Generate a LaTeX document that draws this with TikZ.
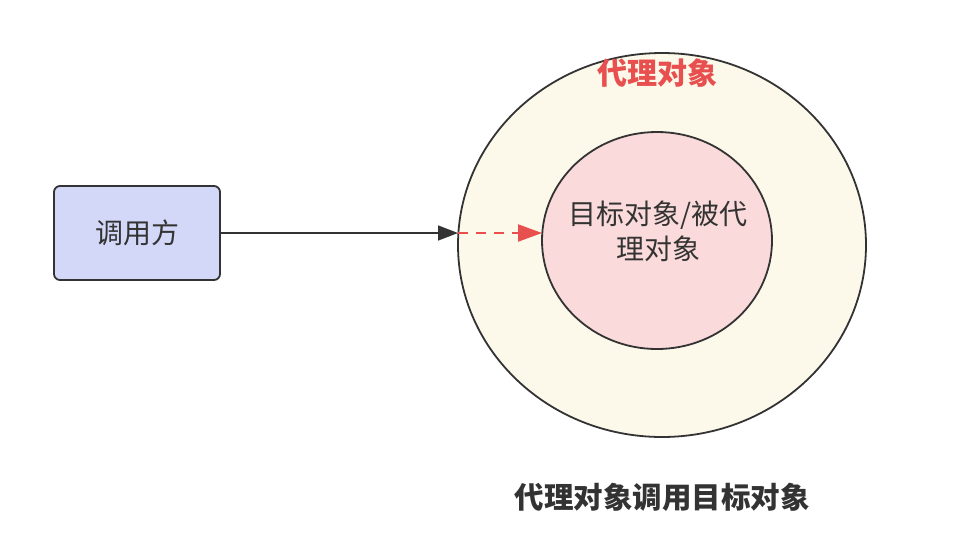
\documentclass[tikz,border=0pt]{standalone}
\usepackage{fontspec}
\setmainfont{Noto Sans CJK SC}
\usetikzlibrary{arrows.meta}
\definecolor{boxfill}{HTML}{D4D8F8}
\definecolor{outerfill}{HTML}{FCF8EA}
\definecolor{innerfill}{HTML}{FADADA}
\definecolor{redtxt}{HTML}{E85050}
\definecolor{ink}{HTML}{333333}
\tikzset{
  caller/.style={draw=ink, line width=1.8pt, fill=boxfill, rounded corners=6pt, minimum width=166pt, minimum height=94pt, text=ink, font=\fontsize{28pt}{32pt}\selectfont},
  label/.style={text=ink, font=\fontsize{28pt}{35pt}\selectfont, align=center},
  conn/.style={draw=ink, line width=1.5pt, -{Triangle[length=20pt,width=15pt]}},
  dconn/.style={draw=redtxt, line width=2.2pt, dash pattern=on 10pt off 8pt, -{Triangle[length=24pt,width=17pt]}}
}
\begin{document}
\begin{tikzpicture}[x=1pt,y=-1pt]
\useasboundingbox (0,0) rectangle (974,539);
\draw[ink, line width=1.8pt, fill=outerfill] (662,245) ellipse [x radius=204, y radius=192];
\draw[ink, line width=1.8pt, fill=innerfill] (657,240.5) ellipse [x radius=115, y radius=108.5];
\node[caller] (c) at (137,233) {调用方};
\coordinate (o) at (458,233);
\coordinate (i) at (542,233);
\node[text=redtxt, font=\fontsize{30pt}{34pt}\selectfont\bfseries] (t) at (657,73) {代理对象};
\node[label] (inn) at (658,231) {目标对象/被代\\理对象};
\node[text=ink, font=\fontsize{29.5pt}{34pt}\selectfont\bfseries] (cap) at (662,497) {代理对象调用目标对象};
\draw[conn] (c.east) -- (o);
\draw[dconn] (o) -- (i);
\end{tikzpicture}
\end{document}
